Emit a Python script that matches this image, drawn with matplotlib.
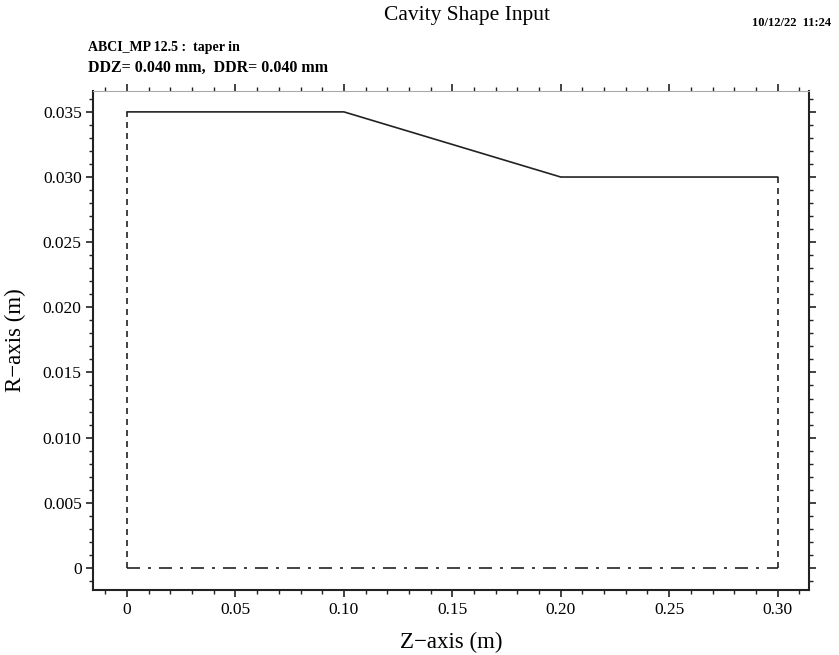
import matplotlib
matplotlib.use("Agg")
import matplotlib.pyplot as plt
from matplotlib.ticker import MultipleLocator

# cavity boundary pieces (z, r) in metres
wall_z = [0.0, 0.10, 0.20, 0.30]
wall_r = [0.035, 0.035, 0.030, 0.030]
left_z = [0.0, 0.0]
left_r = [0.0, 0.035]
right_z = [0.30, 0.30]
right_r = [0.030, 0.0]
axis_z = [0.0, 0.30]
axis_r = [0.0, 0.0]

x_ticks = [0, 0.05, 0.10, 0.15, 0.20, 0.25, 0.30]
x_labels = ["0", "0.05", "0.10", "0.15", "0.20", "0.25", "0.30"]
y_ticks = [0, 0.005, 0.010, 0.015, 0.020, 0.025, 0.030, 0.035]
y_labels = ["0", "0.005", "0.010", "0.015", "0.020", "0.025", "0.030", "0.035"]

plt.rcParams['font.family'] = ['Liberation Serif', 'DejaVu Serif']

fig = plt.figure(figsize=(8.39, 6.55), dpi=100)
ax = fig.add_axes([0.1114, 0.0992, 0.8529, 0.7618])

lc = "#222222"
ax.plot(wall_z, wall_r, color=lc, lw=1.2, solid_joinstyle="miter")
ax.plot(left_z, left_r, color=lc, lw=1.2, dashes=(3.6, 3.0))
ax.plot(right_z, right_r, color=lc, lw=1.2, dashes=(3.6, 3.0))
ax.plot(axis_z, axis_r, color=lc, lw=1.2, dashes=(7.8, 4.8, 1.8, 4.8))

ax.set_xlim(-0.0155, 0.3145)
ax.set_ylim(-0.0017, 0.0366)

ax.set_xticks(x_ticks)
ax.set_xticklabels(x_labels)
ax.set_yticks(y_ticks)
ax.set_yticklabels(y_labels)
ax.xaxis.set_minor_locator(MultipleLocator(0.01))
ax.yaxis.set_minor_locator(MultipleLocator(0.001))

ax.tick_params(which="both", direction="out", top=True, right=True,
               labeltop=False, labelright=False, labelsize=12.5, color=lc)
ax.tick_params(which="major", length=5, width=1.2)
ax.tick_params(which="minor", length=3, width=1.0)
for s in ["left", "bottom", "right"]:
    ax.spines[s].set_linewidth(1.5)
    ax.spines[s].set_color(lc)
ax.spines["top"].set_color("#aaaaaa")

ax.set_xlabel("Z\u2212axis (m)", fontsize=16.5, labelpad=10)
ax.set_ylabel("R\u2212axis (m)", fontsize=16.5, labelpad=12)

fig.text(0.557, 0.976, "Cavity Shape Input", ha="center", va="center", fontsize=15.5)
fig.text(0.896, 0.965, "10/12/22  11:24", ha="left", va="center", fontsize=9,
         fontweight="bold")
fig.text(0.105, 0.928, "ABCI_MP 12.5 :  taper in", ha="left", va="center",
         fontsize=10, fontweight="bold")
fig.text(0.105, 0.896, "DDZ= 0.040 mm,  DDR= 0.040 mm", ha="left", va="center",
         fontsize=11.5, fontweight="bold")

fig.savefig("out.png", dpi=100)
